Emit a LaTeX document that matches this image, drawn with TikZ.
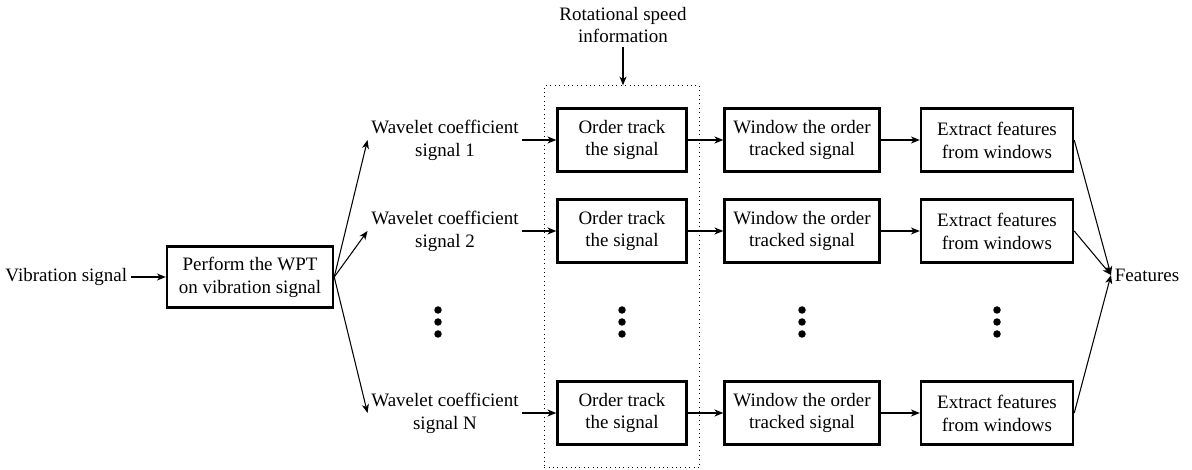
\documentclass[tikz,border=0pt]{standalone}
\usepackage{fontspec}
\setmainfont{Liberation Serif}
\usetikzlibrary{positioning, fit, arrows.meta}

\begin{document}
\begin{tikzpicture}[font=\fontsize{10.8}{13}\selectfont,
    block/.style={draw, line width=1.4pt, align=center, minimum height=1.26cm, inner sep=2pt},
    txt/.style={align=center, inner sep=2pt},
    arr/.style={-{Stealth[length=5pt, width=4pt, inset=1.5pt]}, line width=0.6pt},
    dot/.style={circle, fill, inner sep=0pt, minimum size=0.15cm}]
    \useasboundingbox (0,0) rectangle (23.84,9.38);
    % Input
    \node[txt, anchor=east] (vib) at (2.62,3.84) {Vibration signal};
    \node[block, minimum width=3.32cm, minimum height=1.22cm] (wpt) at (5.0,3.84) {Perform the WPT\\on vibration signal};
    
    % Rows
    \foreach \i/\y/\n in {1/6.58/1, 2/4.76/2, 3/1.12/N} {
        \node[txt] (wc\i) at (8.9,\y) {Wavelet coefficient\\signal \n};
        \node[block, minimum width=2.58cm] (ot\i) at (12.44,\y) {Order track\\the signal};
        \node[block, minimum width=3.1cm] (win\i) at (16.04,\y) {Window the order\\tracked signal};
        \node[block, minimum width=3.04cm] (ext\i) at (19.94,\y) {Extract features\\from windows};
    }
    
    \node[txt] (feat) at (22.94,3.88) {Features};
    \node[txt] (rot) at (12.46,8.88) {Rotational speed\\information};
    \node[draw, dotted, line width=0.5pt, fit=(ot1)(ot3), inner xsep=0.24cm, inner ysep=0.43cm] (track) {};
    
    % Connections
    \draw[arr] (vib) -- (wpt);
    \draw[arr] (rot.south) -- (rot.south |- track.north);
    \foreach \i in {1,2,3} {
        \draw[arr] (wpt.east) -- (wc\i.west);
        \draw[arr] (wc\i) -- (ot\i);
        \draw[arr] (ot\i) -- (win\i);
        \draw[arr] (win\i) -- (ext\i);
        \draw[arr] (ext\i.east) -- (feat.west);
    }
    
    % Dots
    \foreach \x [count=\c] in {8.76,12.44,16.04,19.94}
        \foreach \d in {0,1,2}
            \node[dot] (d\c\d) at (\x,3.18-\d*0.24) {};
\end{tikzpicture}
\end{document}
